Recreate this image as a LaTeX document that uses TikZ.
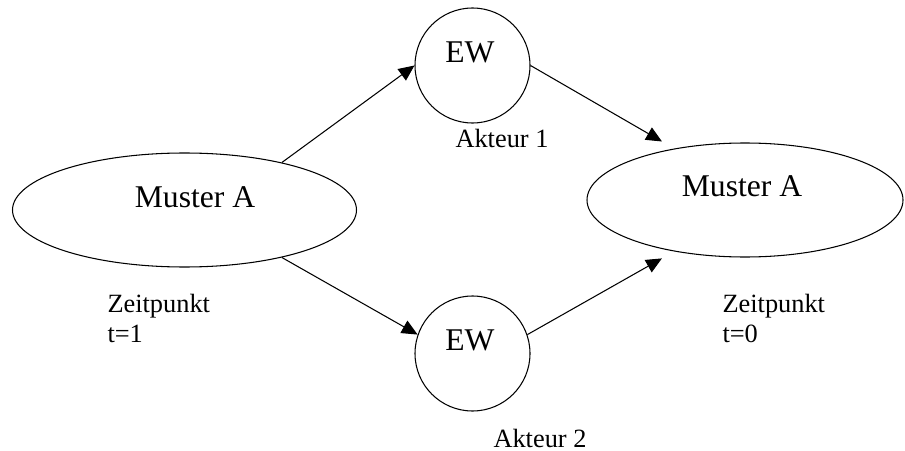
\documentclass[tikz,border=0pt]{standalone}
\usepackage{fontspec}
\setmainfont{Liberation Serif}
\usetikzlibrary{shapes.geometric,arrows.meta}

\begin{document}
\begin{tikzpicture}[
    muster/.style={draw, ellipse, minimum width=6.88cm, minimum height=2.28cm, inner sep=0pt},
    ew/.style={draw, circle, minimum size=2.3cm, inner sep=0pt},
    bigtext/.style={font=\fontsize{18}{21}\selectfont, inner sep=0pt},
    smalltext/.style={font=\fontsize{15}{17}\selectfont, inner sep=0pt, align=left},
    pfeil/.style={-{Triangle[length=9pt,width=8pt]}},
    line width=0.6pt]
    \useasboundingbox (0,0) rectangle (18.1,9);

    % Zeitpunkt t=1
    \node[muster] (mA) at (3.69,4.80) {};
    \node[bigtext] (mAtext) at ([shift={(0.21,0.26)}]mA.center) {Muster A};
    \node[smalltext, anchor=base west] (zeit1) at (2.14,2.16) {Zeitpunkt\\t=1};

    % Akteure
    \node[ew] (ew1) at (9.45,7.69) {};
    \node[bigtext] (ew1text) at ([shift={(-0.05,0.27)}]ew1.center) {EW};
    \node[smalltext, anchor=base west] (akteur1) at (9.10,6.04) {Akteur 1};

    \node[ew] (ew2) at (9.45,1.93) {};
    \node[bigtext] (ew2text) at ([shift={(-0.05,0.27)}]ew2.center) {EW};
    \node[smalltext, anchor=base west] (akteur2) at (9.86,0.06) {Akteur 2};

    % Zeitpunkt t=0
    \node[muster, minimum width=6.32cm] (mB) at (14.90,5.00) {};
    \node[bigtext] (mBtext) at ([shift={(-0.06,0.27)}]mB.center) {Muster A};
    \node[smalltext, anchor=base west] (zeit0) at (14.44,2.16) {Zeitpunkt\\t=0};

    \draw[pfeil] (mA.26) -- (ew1.west);
    \draw[pfeil] (mA.-26) -- (ew2.161);
    \draw[pfeil, shorten >=8pt] (ew1.east) -- (mB.144);
    \draw[pfeil, shorten >=8pt] (ew2.19) -- (mB.-144);
\end{tikzpicture}
\end{document}
